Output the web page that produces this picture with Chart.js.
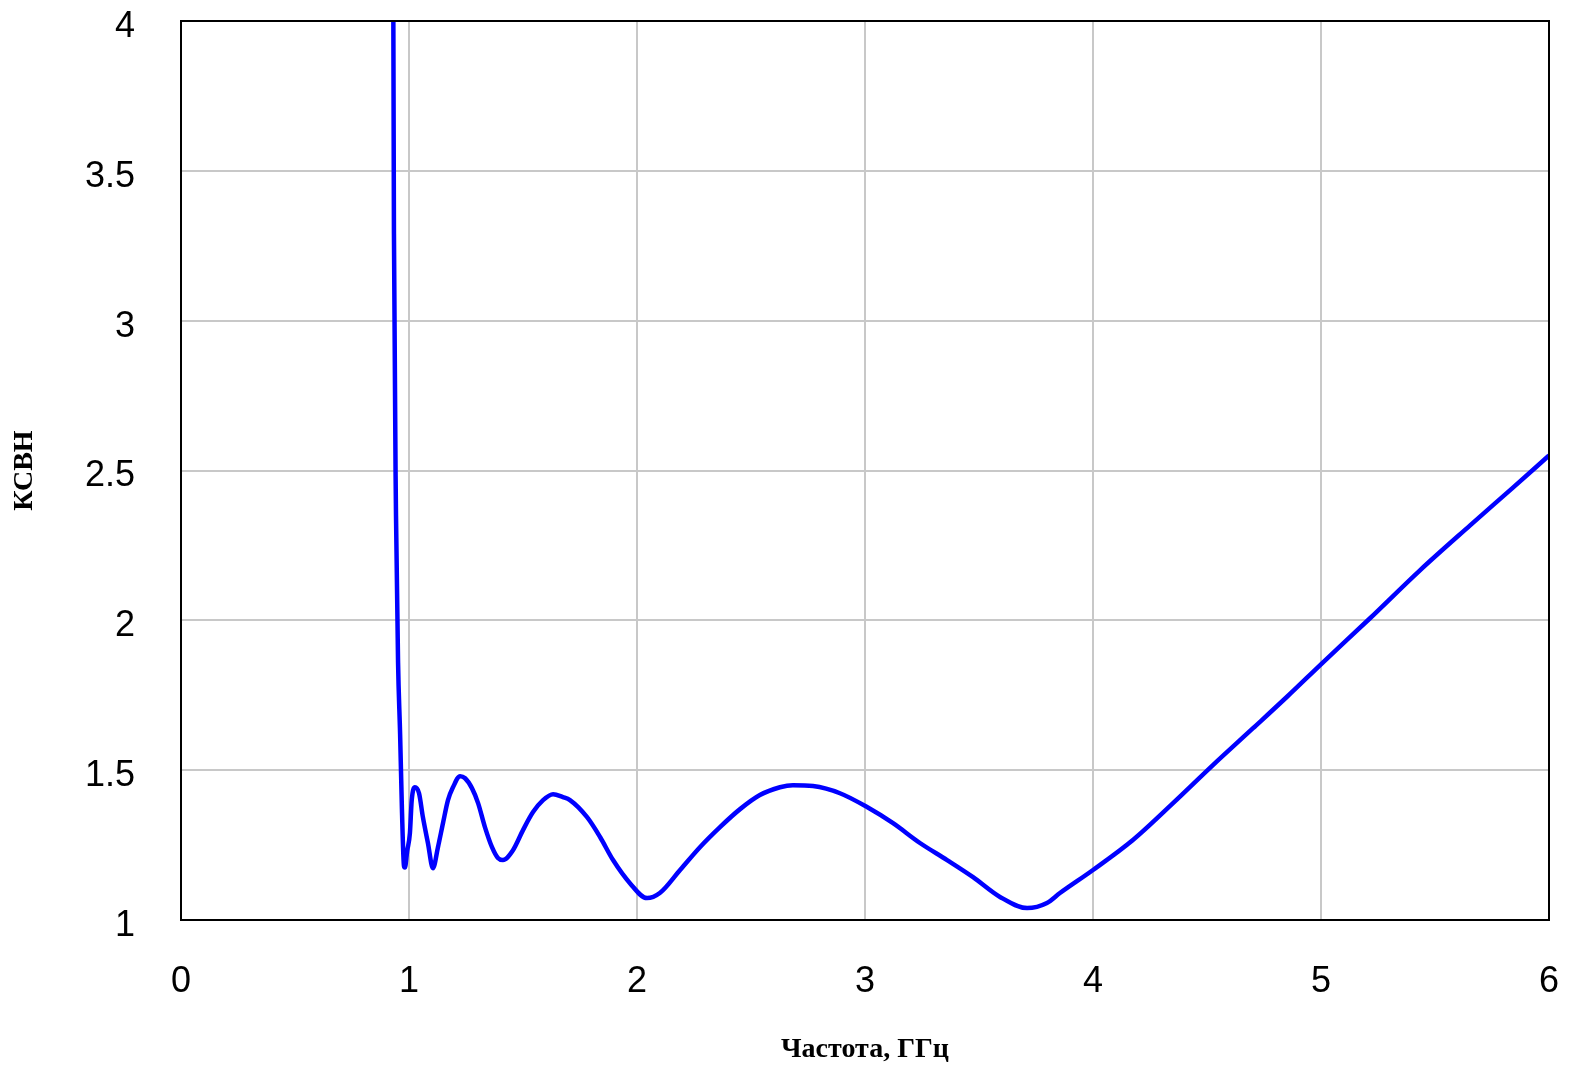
<!DOCTYPE html>
<html lang="ru">
<head>
    <meta charset="UTF-8">
    <title>КСВН</title>
    <script src="https://cdn.jsdelivr.net/npm/chart.js"></script>
    <style>
        body {
            margin: 0;
            padding: 0;
            background: #fff;
        }
        canvas {
            display: block;
        }
    </style>
</head>
<body>
    <canvas id="grafico" width="1569" height="1069"></canvas>

    <script>
        // Частота, ГГц
        const freqs = [0.930, 0.934, 0.943, 0.952, 0.961, 0.969, 0.978, 0.982, 0.992, 1.004, 1.012, 1.026,
            1.044, 1.061, 1.083, 1.105, 1.127, 1.149, 1.171, 1.193, 1.224, 1.246, 1.276, 1.303, 1.333,
            1.364, 1.390, 1.412, 1.456, 1.500, 1.544, 1.588, 1.632, 1.675, 1.706, 1.781, 1.838, 1.895,
            1.969, 2.044, 2.100, 2.189, 2.276, 2.364, 2.452, 2.539, 2.627, 2.684, 2.772, 2.890, 3.009,
            3.123, 3.241, 3.360, 3.474, 3.592, 3.711, 3.798, 3.855, 4.000, 4.175, 4.351, 4.526, 4.702,
            4.851, 5.009, 5.215, 5.434, 5.654, 5.842, 6.000];
        // КСВН
        const vswr = [4.40, 3.29, 2.35, 1.86, 1.62, 1.37, 1.18, 1.175, 1.23, 1.29, 1.40, 1.443,
            1.423, 1.343, 1.257, 1.173, 1.243, 1.323, 1.400, 1.443, 1.480, 1.473, 1.440, 1.390, 1.310,
            1.243, 1.207, 1.200, 1.233, 1.300, 1.360, 1.400, 1.420, 1.410, 1.400, 1.343, 1.277, 1.200,
            1.123, 1.073, 1.090, 1.167, 1.243, 1.310, 1.370, 1.417, 1.443, 1.450, 1.447, 1.423, 1.377,
            1.323, 1.257, 1.200, 1.143, 1.077, 1.040, 1.057, 1.090, 1.167, 1.267, 1.390, 1.517, 1.640,
            1.745, 1.860, 2.007, 2.167, 2.317, 2.443, 2.550];

        const xTicks = [0, 1, 2, 3, 4, 5, 6];
        const yTicks = [1, 1.5, 2, 2.5, 3, 3.5, 4];

        const pontos = freqs.map((f, i) => ({ x: f, y: vswr[i] }));

        // рамка вокруг области графика
        const moldura = {
            id: 'moldura',
            afterDraw(chart) {
                const a = chart.chartArea;
                const ctx = chart.ctx;
                ctx.save();
                ctx.strokeStyle = '#000';
                ctx.lineWidth = 2;
                ctx.strokeRect(a.left, a.top, a.right - a.left, a.bottom - a.top);
                ctx.restore();
            }
        };

        // без автоматических отступов для подписей
        const semPadding = (s) => {
            s.paddingTop = 0;
            s.paddingBottom = 0;
            s.paddingLeft = 0;
            s.paddingRight = 0;
        };

        const config = {
            type: 'scatter',
            data: {
                datasets: [{
                    data: pontos,
                    showLine: true,
                    borderColor: '#0000ff',
                    backgroundColor: '#0000ff',
                    borderWidth: 4.5,
                    pointRadius: 0,
                    cubicInterpolationMode: 'monotone'
                }]
            },
            options: {
                responsive: false,
                animation: false,
                layout: {
                    padding: { top: 21, right: 20, bottom: 0, left: 6 }
                },
                plugins: {
                    legend: { display: false },
                    tooltip: { enabled: false }
                },
                scales: {
                    x: {
                        type: 'linear',
                        min: 0,
                        max: 6,
                        afterBuildTicks: (s) => { s.ticks = xTicks.map(v => ({ value: v })); },
                        afterFit: (s) => { s.height = 149; semPadding(s); },
                        grid: { color: '#c8c8c8', lineWidth: 2, drawTicks: false },
                        border: { color: '#000', width: 2 },
                        ticks: {
                            padding: 40,
                            color: '#000',
                            font: { family: 'Liberation Sans, Arial', size: 36 },
                            callback: (v) => String(v)
                        },
                        title: {
                            display: true,
                            text: 'Частота, ГГц',
                            color: '#000',
                            font: { family: 'Liberation Serif, Times New Roman', size: 28, weight: 'bold' },
                            padding: { top: 0, bottom: 2 }
                        }
                    },
                    y: {
                        min: 1,
                        max: 4,
                        afterBuildTicks: (s) => { s.ticks = yTicks.map(v => ({ value: v })); },
                        afterFit: (s) => { s.width = 175; semPadding(s); },
                        grid: { color: '#c8c8c8', lineWidth: 2, drawTicks: false },
                        border: { color: '#000', width: 2 },
                        ticks: {
                            padding: 46,
                            color: '#000',
                            font: { family: 'Liberation Sans, Arial', size: 36, lineHeight: '12px' },
                            // пустая первая строка сдвигает подпись чуть ниже
                            callback: (v) => ['', String(v)]
                        },
                        title: {
                            display: true,
                            text: 'КСВН',
                            color: '#000',
                            font: { family: 'Liberation Serif, Times New Roman', size: 28, weight: 'bold' },
                            padding: { top: 2, bottom: 0 }
                        }
                    }
                }
            },
            plugins: [moldura]
        };

        new Chart(document.getElementById('grafico'), config);
    </script>
</body>
</html>
